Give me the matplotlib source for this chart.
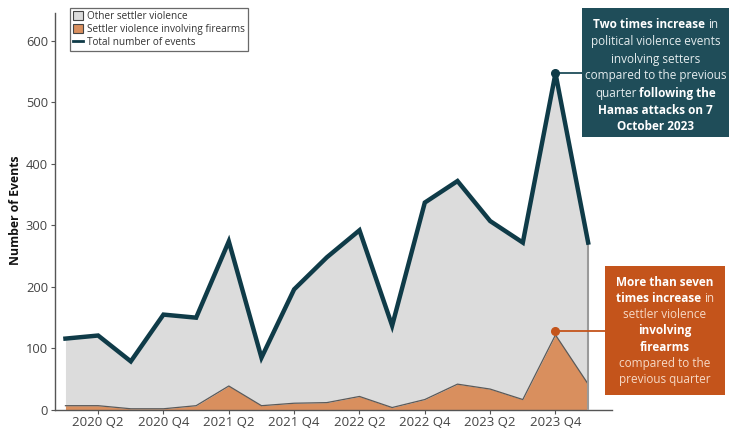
import matplotlib
matplotlib.use("Agg")
import matplotlib.pyplot as plt
from matplotlib.patches import Patch, Rectangle
from matplotlib.lines import Line2D
import numpy as np

plt.rcParams['font.family'] = ['Open Sans', 'DejaVu Sans']

quarters = ["2020 Q1", "2020 Q2", "2020 Q3", "2020 Q4",
            "2021 Q1", "2021 Q2", "2021 Q3", "2021 Q4",
            "2022 Q1", "2022 Q2", "2022 Q3", "2022 Q4",
            "2023 Q1", "2023 Q2", "2023 Q3", "2023 Q4", "2024 Q1"]
total_events = [116, 121, 79, 155, 150, 274, 85, 196, 248, 292, 137, 337,
                372, 307, 272, 547, 272]
firearm_events = [7, 7, 2, 2, 7, 39, 7, 11, 12, 22, 4, 17, 42, 34, 17, 122, 42]
tick_labels = ["2020 Q2", "2020 Q4", "2021 Q2", "2021 Q4", "2022 Q2",
               "2022 Q4", "2023 Q2", "2023 Q4"]

W, H = 732, 430
fig = plt.figure(figsize=(W / 100, H / 100), dpi=100)
ax = fig.add_axes([55 / W, 20 / H, (612 - 55) / W, (410 - 13) / H])

x = np.arange(len(quarters))
tot = np.array(total_events, dtype=float)
fire = np.array(firearm_events, dtype=float)

gray_fill = "#dcdcdc"
orange_fill = "#d98f5e"
teal = "#0f3b48"
box_teal = "#1f4d59"
box_orange = "#c4541b"

ax.fill_between(x, fire, tot, color=gray_fill, lw=0, zorder=1)
ax.fill_between(x, 0, fire, color=orange_fill, lw=0, zorder=2)
ax.plot(x, fire, color="#5a5a5a", lw=0.9, zorder=3)
ax.plot([x[-1], x[-1]], [0, tot[-1]], color="#9a9a9a", lw=1.5, zorder=3)
ax.plot(x, tot, color=teal, lw=3.2, solid_joinstyle="miter", zorder=4)

ax.set_xlim(-0.32, 16.73)
ax.set_ylim(0, 645)
ax.set_yticks([0, 100, 200, 300, 400, 500, 600])
tick_pos = [quarters.index(q) for q in tick_labels]
ax.set_xticks(tick_pos)
ax.set_xticklabels(tick_labels)
for s in ["top", "right"]:
    ax.spines[s].set_visible(False)
for s in ["left", "bottom"]:
    ax.spines[s].set_color("#555555")
    ax.spines[s].set_linewidth(1.0)
ax.tick_params(axis="both", colors="#555555", length=3, labelcolor="#444444")
ax.tick_params(axis="x", pad=1.5, labelsize=9.5)
ax.tick_params(axis="y", pad=2, labelsize=9.3)
fig.text(16 / W, 1 - 210 / H, "Number of Events", rotation=90, fontsize=8.8,
         fontweight="bold", color="#111111", ha="center", va="center")

handles = [Patch(facecolor=gray_fill, edgecolor="#444444", lw=0.8,
                 label="Other settler violence"),
           Patch(facecolor=orange_fill, edgecolor="#444444", lw=0.8,
                 label="Settler violence involving firearms"),
           Line2D([0], [0], color=teal, lw=2.0, label="Total number of events")]
leg = fig.legend(handles=handles, loc="upper left",
                 bbox_to_anchor=(70 / W, 1 - 8 / H), fontsize=7.2,
                 frameon=True, fancybox=False, handlelength=1.0,
                 handleheight=1.0, handletextpad=0.4, labelspacing=0.2,
                 borderpad=0.3, borderaxespad=0)
leg.get_frame().set_edgecolor("#444444")
leg.get_frame().set_linewidth(0.9)
for t in leg.get_texts():
    t.set_color("#333333")

def px(xp, yp):
    return xp / W, 1 - yp / H

fig.patches.append(Rectangle(px(582, 137), (729 - 582) / W, (137 - 8) / H,
                             transform=fig.transFigure, facecolor=box_teal,
                             edgecolor="none", zorder=5))
fig.patches.append(Rectangle(px(605, 395), (725 - 605) / W, (395 - 266) / H,
                             transform=fig.transFigure, facecolor=box_orange,
                             edgecolor="none", zorder=5))

# connector lines and dots (x limits of the axes map 55..612 px)
step = (612 - 55) / (16.73 + 0.32)
i_peak = quarters.index("2023 Q4")
ax.plot([x[i_peak], 16.73 + (582 - 612) / step], [tot[i_peak]] * 2,
        color=box_teal, lw=1.3, clip_on=False, zorder=6)
ax.plot([x[i_peak]], [tot[i_peak]], "o", color=teal, ms=5.5, clip_on=False,
        zorder=7)
dot_y = fire[i_peak] + 6
ax.plot([x[i_peak], 16.73 + (605 - 612) / step], [dot_y] * 2,
        color=box_orange, lw=1.3, clip_on=False, zorder=6)
ax.plot([x[i_peak]], [dot_y], "o", color=box_orange, ms=5.5, clip_on=False,
        zorder=7)

renderer = fig.canvas.get_renderer()

def rich_lines(lines, cx, y0, dy, normal_color, bold_color, fs):
    sp = fig.text(0, 0, "a a", fontsize=fs)
    sp2 = fig.text(0, 0, "aa", fontsize=fs)
    space_w = (sp.get_window_extent(renderer).width
               - sp2.get_window_extent(renderer).width)
    sp.remove(); sp2.remove()
    for k, segs in enumerate(lines):
        yp = y0 + k * dy
        objs = []
        for txt, bold in segs:
            t = fig.text(0, 1 - yp / H, txt, fontsize=fs,
                         fontweight="bold" if bold else "normal",
                         color=bold_color if bold else normal_color,
                         ha="left", va="center", zorder=8)
            objs.append(t)
        widths = [o.get_window_extent(renderer).width for o in objs]
        total_w = sum(widths) + space_w * (len(objs) - 1)
        xs = cx - total_w / 2
        for o, w in zip(objs, widths):
            o.set_x(xs / W)
            xs += w + space_w

box1 = [
    [("Two times increase", True), ("in", False)],
    [("political violence events", False)],
    [("involving setters", False)],
    [("compared to the previous", False)],
    [("quarter", False), ("following the", True)],
    [("Hamas attacks on 7", True)],
    [("October 2023", True)],
]
box2 = [
    [("More than seven", True)],
    [("times increase", True), ("in", False)],
    [("settler violence", False)],
    [("involving", True)],
    [("firearms", True)],
    [("compared to the", False)],
    [("previous quarter", False)],
]
rich_lines(box1, 655.5, 25, 17, "#e4ecee", "white", 8.5)
rich_lines(box2, 665, 282, 16.3, "#f6d9c6", "white", 8.5)

fig.savefig("out.png", dpi=100)
